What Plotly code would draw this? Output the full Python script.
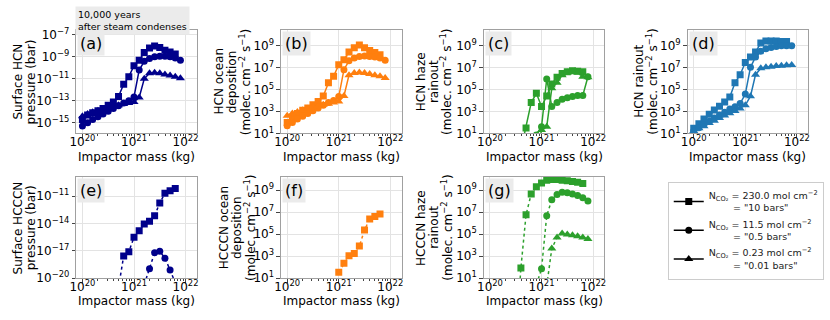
import plotly.graph_objects as go

# Impactor masses (kg), the grid of model runs
masses = [1.00e20, 1.26e20, 1.58e20, 2.00e20, 2.51e20, 3.16e20, 3.98e20,
          5.01e20, 6.31e20, 7.94e20, 1.00e21, 1.26e21, 1.58e21, 2.00e21,
          2.51e21, 3.16e21, 3.98e21, 5.01e21, 6.31e21, 7.94e21]

# All series below are log10 of the plotted quantity (None = no value)
# order of series: "10 bars" (squares), "0.5 bars" (circles), "0.01 bars" (triangles)

# (a) surface HCN pressure (bar)
hcn_p_10 = [-14.7, -14.3, -14.1, -13.9, -13.7, -13.4, -13.1, -12.6, -11.5, -10.8,
            -9.8, -9.3, -8.6, -8.2, -8.0, -8.15, -8.4, -8.55, -8.75, None]
hcn_p_05 = [-15.3, -15.0, -14.7, -14.45, -14.2, -13.95, -13.7, -13.45, -13.2, -13.0,
            -12.65, -10.2, -9.4, -9.15, -9.0, -8.95, -8.95, -9.0, -9.1, -9.3]
hcn_p_001 = [-14.4, -14.2, -14.05, -13.9, -13.75, -13.6, -13.5, -13.4, -13.3, -13.2,
             -13.1, -12.7, -11.0, -10.5, -10.45, -10.5, -10.6, -10.7, -10.8, -10.95]

# (b) HCN ocean deposition
hcn_ocean_10 = [2.0, 2.5, 2.8, 3.1, 3.3, 3.6, 3.9, 4.4, 5.6, 6.2,
                7.25, 7.7, 8.4, 8.8, 9.05, 8.8, 8.55, 8.35, 8.15, None]
hcn_ocean_05 = [1.7, 2.0, 2.3, 2.55, 2.8, 3.05, 3.3, 3.55, 3.8, 4.0,
                4.35, 6.8, 7.6, 7.85, 8.0, 8.05, 8.0, 7.95, 7.85, 7.65]
hcn_ocean_001 = [2.6, 2.8, 2.95, 3.1, 3.25, 3.4, 3.5, 3.6, 3.7, 3.8,
                 3.9, 4.4, 6.3, 6.5, 6.55, 6.5, 6.4, 6.3, 6.2, 6.05]

# (c) HCN haze rainout
hcn_haze_10 = [None, None, None, None, None, None, -0.5, 1.5, 3.8, 4.65,
               3.45, 4.4, 5.5, 6.1, 6.45, 6.6, 6.7, 6.65, 6.6, None]
hcn_haze_05 = [None, None, None, None, None, None, None, None, -1.0, 0.85,
               1.6, 5.95, 3.45, 3.8, 4.1, 4.25, 4.35, 4.45, 4.45, 6.15]
hcn_haze_001 = [None, None, None, None, None, None, None, None, None, -1.0,
                1.3, 1.6, 5.1, 5.6, 6.3, 6.55, 6.6, 6.55, 6.15, 6.1]

# (d) HCN rainout
hcn_rain_10 = [1.46, 1.87, 2.3, 2.74, 3.12, 3.47, 3.85, 4.3, 5.6, 6.34,
               7.45, 7.95, 8.4, 9.23, 9.41, 9.41, 9.4, 9.37, 9.35, None]
hcn_rain_05 = [1.22, 1.51, 1.81, 2.1, 2.39, 2.68, 2.92, 3.21, 3.42, 3.71,
               4.58, 7.01, 7.95, 8.47, 8.71, 8.82, 8.91, 8.97, 8.97, 8.97]
hcn_rain_001 = [1.22, 1.46, 1.66, 1.95, 2.16, 2.39, 2.63, 2.83, 3.04, 3.27,
                3.56, 4.38, 6.34, 6.92, 7.01, 7.07, 7.13, 7.16, 7.19, 7.22]

# (e) surface HCCCN pressure (bar)
hc3n_p_10 = [None, None, None, None, None, None, None, -21.0, -17.57, -17.1,
             -15.5, -14.8, -14.04, -13.75, -13.15, -11.74, -10.68, -10.4, -10.15, None]
hc3n_p_05 = [None, None, None, None, None, None, None, None, None, None,
             None, None, -20.7, -18.95, -17.2, -17.05, -17.8, -19.1, -20.5, None]

# (f) HCCCN ocean deposition
hc3n_ocean_10 = [None, None, None, None, None, None, None, None, None, None,
                 1.55, 2.37, 3.04, 3.25, 3.92, 5.38, 6.37, 6.6, 6.84, None]

# (g) HCCCN haze rainout
hc3n_haze_10 = [None, None, None, None, None, -5.0, 1.94, 6.76, 8.65, 9.3,
                9.65, 9.9, 9.95, 9.95, 9.9, 9.85, 9.78, 9.7, 9.6, None]
hc3n_haze_05 = [None, None, None, None, None, None, None, None, None, 0.4,
                1.85, 6.67, 8.12, 8.6, 8.8, 8.75, 8.65, 8.5, 8.3, 8.0]
hc3n_haze_001 = [None, None, None, None, None, None, None, None, None, None,
                 None, 0.3, 3.69, 4.7, 5.06, 4.98, 4.9, 4.8, 4.7, 4.56]

legend_names = [
    "N<sub>CO₂</sub> = 230.0 mol cm<sup>−2</sup><br>\u00a0\u00a0\u00a0\u00a0\u00a0\u00a0\u00a0\u00a0= \"10 bars\"",
    "N<sub>CO₂</sub> = 11.5 mol cm<sup>−2</sup><br>\u00a0\u00a0\u00a0\u00a0\u00a0\u00a0\u00a0\u00a0= \"0.5 bars\"",
    "N<sub>CO₂</sub> = 0.23 mol cm<sup>−2</sup><br>\u00a0\u00a0\u00a0\u00a0\u00a0\u00a0\u00a0\u00a0= \"0.01 bars\"",
]
symbols = ["square", "circle", "triangle-up"]
msizes = [7, 7, 8]

UNIT = "(molec. cm<sup>−2</sup> s<sup>−1</sup>)"

W, H = 830, 320
FONT = "DejaVu Sans"
cols = [(70, 192), (277, 399), (482, 604), (688, 810)]
rows = [(27, 134), (179, 284)]

panels = [
    dict(tag="(a)", r=0, c=0, color="#00008b", dash="solid",
         series=[hcn_p_10, hcn_p_05, hcn_p_001], yr=[-15.97, -6.56], yt=[-15, -13, -11, -9, -7],
         title=["Surface HCN", "pressure (bar)"], tx=[11, 24]),
    dict(tag="(b)", r=0, c=1, color="#ff7f0e", dash="solid",
         series=[hcn_ocean_10, hcn_ocean_05, hcn_ocean_001], yr=[1, 10.4], yt=[1, 3, 5, 7, 9],
         title=["HCN ocean", "deposition", UNIT], tx=[214, 227, 240]),
    dict(tag="(c)", r=0, c=2, color="#2ca02c", dash="solid",
         series=[hcn_haze_10, hcn_haze_05, hcn_haze_001], yr=[1, 10.4], yt=[1, 3, 5, 7, 9],
         title=["HCN haze", "rainout", UNIT], tx=[418, 431, 444]),
    dict(tag="(d)", r=0, c=3, color="#1f77b4", dash="solid",
         series=[hcn_rain_10, hcn_rain_05, hcn_rain_001], yr=[1, 10.4], yt=[1, 3, 5, 7, 9],
         title=["HCN rainout", UNIT], tx=[639, 652]),
    dict(tag="(e)", r=1, c=0, color="#00008b", dash="dot",
         series=[hc3n_p_10, hc3n_p_05, None], yr=[-20, -8.88], yt=[-20, -17, -14, -11],
         title=["Surface HCCCN", "pressure (bar)"], tx=[11, 24]),
    dict(tag="(f)", r=1, c=1, color="#ff7f0e", dash="dot",
         series=[hc3n_ocean_10, None, None], yr=[1, 10.2], yt=[1, 3, 5, 7, 9],
         title=["HCCCN ocean", "deposition", UNIT], tx=[219, 232, 245]),
    dict(tag="(g)", r=1, c=2, color="#2ca02c", dash="dot",
         series=[hc3n_haze_10, hc3n_haze_05, hc3n_haze_001], yr=[1, 10.2], yt=[1, 3, 5, 7, 9],
         title=["HCCCN haze", "rainout", UNIT], tx=[418, 431, 444]),
]


def unlog(vals):
    return [None if v is None else 10.0 ** v for v in vals]


def sup(e):
    return "10<sup>" + str(e).replace("-", "−") + "</sup>"


fig = go.Figure()
annotations = []
x_minor = [k * 10.0 ** d for d in (20, 21) for k in range(2, 10)]

for i, p in enumerate(panels):
    n = "" if i == 0 else str(i + 1)
    l, rgt = cols[p["c"]]
    t, b = rows[p["r"]]
    for s, vals in enumerate(p["series"]):
        if vals is None:
            continue
        fig.add_trace(go.Scatter(
            x=masses, y=unlog(vals), xaxis="x" + n, yaxis="y" + n,
            mode="lines+markers", showlegend=False,
            line=dict(color=p["color"], width=1.5, dash=p["dash"]),
            marker=dict(symbol=symbols[s], size=msizes[s], color=p["color"]),
        ))
    axcommon = dict(type="log", showline=True, mirror=True, linecolor="#a0a0a0", linewidth=1,
                    showgrid=True, gridcolor="#e3e3e3", gridwidth=1, zeroline=False,
                    ticks="outside", ticklen=3.5, tickcolor="#444", tickwidth=1,
                    tickfont=dict(family=FONT, size=12, color="black"))
    fig.update_layout(**{
        "xaxis" + n: dict(axcommon, domain=[l / W, rgt / W], range=[19.88, 22.22],
                          anchor="y" + n, ticklabelstandoff=-6,
                          tickvals=[1e20, 1e21, 1e22], ticktext=[sup(20), sup(21), sup(22)],
                          minor=dict(tickvals=x_minor, ticks="outside", ticklen=2,
                                     tickcolor="#444", showgrid=False)),
        "yaxis" + n: dict(axcommon, domain=[1 - b / H, 1 - t / H], range=p["yr"],
                          anchor="x" + n,
                          tickvals=[10.0 ** v for v in p["yt"]], ticktext=[sup(v) for v in p["yt"]]),
    })
    # panel tag
    annotations.append(dict(text=p["tag"], xref="paper", yref="paper",
                            x=(l + 1) / W, y=1 - (t + 1) / H, xanchor="left", yanchor="top",
                            showarrow=False, bgcolor="#ebebeb", borderpad=2,
                            font=dict(family=FONT, size=16, color="black")))
    # y title, one annotation per line
    for line, xp in zip(p["title"], p["tx"]):
        annotations.append(dict(text=line, xref="paper", yref="paper", textangle=-90,
                                x=xp / W, y=1 - (t + b) / 2 / H, xanchor="center", yanchor="middle",
                                showarrow=False, font=dict(family=FONT, size=12, color="black")))
    # x title
    annotations.append(dict(text="Impactor mass (kg)", xref="paper", yref="paper",
                            x=(l + rgt) / 2 / W, y=1 - (b + 24) / H, xanchor="center", yanchor="middle",
                            showarrow=False, font=dict(family=FONT, size=12, color="black")))

annotations.append(dict(text="10,000 years<br>after steam condenses", xref="paper", yref="paper",
                        x=69 / W, y=1 - 2 / H, xanchor="left", yanchor="top", align="left",
                        showarrow=False, bgcolor="#ebebeb", borderpad=2,
                        font=dict(family=FONT, size=9.5, color="black")))

# legend-only entries in black
for s in range(3):
    fig.add_trace(go.Scatter(
        x=[None], y=[None], mode="lines+markers", name=legend_names[s],
        legendgroup="g%d" % s,
        line=dict(color="black", width=1.5),
        marker=dict(symbol=symbols[s], size=msizes[s], color="black"),
    ))

fig.update_layout(
    width=W, height=H, margin=dict(l=0, r=0, t=0, b=0),
    paper_bgcolor="white", plot_bgcolor="white",
    font=dict(family=FONT, size=12, color="black"),
    annotations=annotations,
    showlegend=True,
    legend=dict(x=668 / W, y=1 - 184 / H, xanchor="left", yanchor="top",
                bordercolor="#cccccc", borderwidth=1, bgcolor="white",
                font=dict(family=FONT, size=9.5, color="#222"), valign="middle",
                itemwidth=30, traceorder="grouped", tracegroupgap=1),
)

# the page body has an 8px default margin; drop it so the figure sits at the corner
fig.write_html("out.html", config={"displayModeBar": False},
               post_script="document.body.style.margin='0';")
